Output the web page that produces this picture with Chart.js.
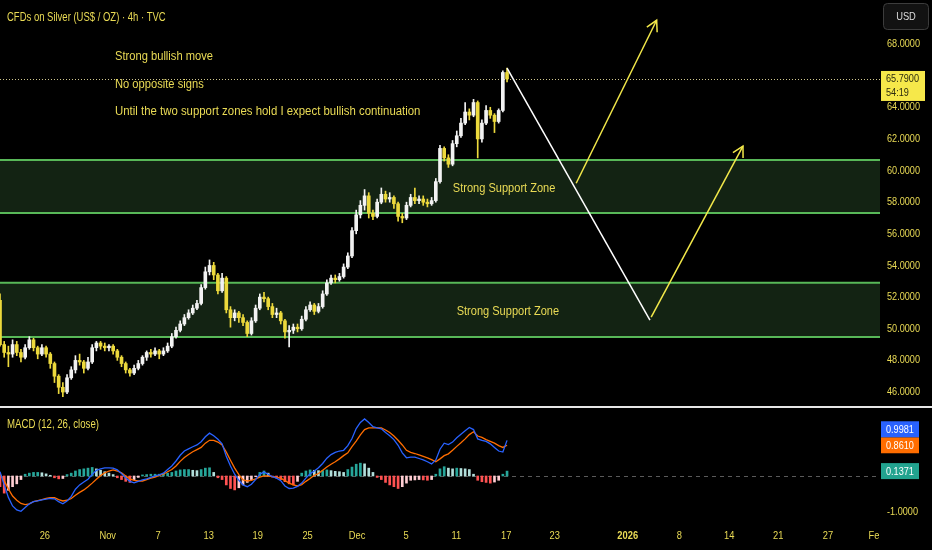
<!DOCTYPE html>
<html lang="en">
<head>
  <meta charset="UTF-8">
  <title>CFDs on Silver 4h</title>
  <style>
    html, body { margin: 0; padding: 0; background: #000; }
    body { width: 932px; height: 550px; position: relative; overflow: hidden; }
    #price { position: absolute; left: 0; top: 0; }
    #sep { position: absolute; left: 0; top: 406px; width: 932px; height: 2px; background: #e6e6e6; }
    #macd { position: absolute; left: 0; top: 408px; }
  </style>
</head>
<body>
  <canvas id="price" width="932" height="406"></canvas>
  <div id="sep"></div>
  <canvas id="macd" width="932" height="142"></canvas>
  <script src="https://cdn.jsdelivr.net/npm/chart.js"></script>
  <script>
    // x axis: one unit = one candle slot, tick labels placed at slot positions
    const tickPos = [10.7, 25.7, 37.7, 49.8, 61.5, 73.4, 85.2, 96.9, 108.9, 120.8, 132.4, 149.8, 162.1, 174.0, 185.7, 197.6, 209.2];
    const tickLabels = ['26', 'Nov', '7', '13', '19', '25', 'Dec', '5', '11', '17', '23', '2026', '8', '14', '21', '27', 'Feb'];
    const priceTicks = [46, 48, 50, 52, 54, 56, 58, 60, 62, 64, 66, 68];
    const macdTicks = [-1];

    const opens = [51.8, 49.0, 48.5, 48.4, 49.0, 48.5, 48.2, 48.8, 49.3, 48.8, 48.4, 48.8, 48.4, 47.8, 47.0, 46.3, 46.0, 46.9, 47.4, 48.0,
      47.9, 47.5, 47.9, 48.8, 49.1, 48.9, 48.8, 48.9, 48.6, 48.2, 47.8, 47.4, 47.2, 47.5, 47.8, 48.2, 48.5, 48.4, 48.6, 48.4,
      48.6, 48.9, 49.5, 49.9, 50.3, 50.7, 51.0, 51.3, 51.6, 52.6, 53.6, 54.0, 53.4, 52.4, 53.2, 51.2, 50.7, 51.0, 50.7, 50.4,
      49.7, 50.5, 51.3, 52.0, 51.9, 51.4, 50.9, 51.0, 50.5, 49.8, 49.9, 50.1, 50.0, 50.6, 51.2, 51.5, 51.1, 51.4, 52.2, 52.9,
      53.2, 53.1, 53.3, 53.9, 54.6, 56.2, 57.2, 57.8, 58.4, 57.3, 57.1, 58.0, 58.5, 58.2, 58.3, 57.9, 57.1, 57.0, 57.8, 58.3,
      58.1, 58.2, 58.0, 57.9, 58.1, 59.3, 61.4, 60.8, 60.4, 61.7, 62.2, 63.0, 63.7, 63.5, 64.3, 62.0, 63.0, 63.8, 63.5, 63.1,
      63.8, 66.2];
    const highs = [52.2, 49.2, 48.9, 49.3, 49.2, 48.7, 49.0, 49.5, 49.4, 48.9, 49.0, 48.9, 48.5, 47.9, 47.1, 46.6, 47.1, 47.6, 48.3, 48.4,
      48.0, 48.2, 49.0, 49.2, 49.2, 49.1, 49.0, 49.0, 48.7, 48.3, 47.9, 47.5, 47.7, 48.0, 48.3, 48.6, 48.7, 48.8, 48.7, 48.8,
      49.1, 49.7, 50.1, 50.5, 50.9, 51.2, 51.5, 51.8, 52.8, 53.9, 54.35, 54.2, 53.5, 53.5, 53.3, 51.4, 51.2, 51.1, 50.9, 50.5,
      50.7, 51.5, 52.2, 52.3, 52.0, 51.6, 51.3, 51.1, 50.6, 50.2, 50.3, 50.3, 50.8, 51.4, 51.7, 51.6, 51.6, 52.4, 53.1, 53.4,
      53.4, 53.5, 54.1, 54.8, 56.4, 57.5, 58.1, 58.8, 58.6, 57.5, 58.2, 58.9, 58.7, 58.6, 58.4, 58.0, 57.3, 58.0, 58.5, 58.9,
      58.4, 58.4, 58.2, 58.3, 59.5, 61.6, 61.5, 61.0, 61.9, 62.5, 63.3, 64.3, 63.9, 64.5, 64.4, 63.2, 64.1, 64.0, 63.6, 63.9,
      66.3, 66.48];
    const lows = [48.9, 48.2, 47.6, 48.2, 48.3, 47.9, 48.1, 48.7, 48.6, 48.1, 48.3, 48.2, 47.5, 46.6, 45.9, 45.7, 45.9, 46.8, 47.2, 47.7,
      47.2, 47.4, 47.8, 48.6, 48.7, 48.6, 48.6, 48.4, 48.0, 47.6, 47.2, 47.0, 47.1, 47.4, 47.7, 48.0, 48.2, 48.3, 48.1, 48.3,
      48.5, 48.8, 49.4, 49.8, 50.2, 50.6, 50.9, 51.2, 51.5, 52.5, 53.4, 53.1, 52.2, 52.3, 51.0, 50.1, 50.5, 50.4, 50.2, 49.5,
      49.6, 50.4, 51.2, 51.7, 51.2, 50.7, 50.7, 50.3, 49.4, 48.85, 49.7, 49.8, 49.9, 50.5, 51.1, 50.9, 51.0, 51.3, 52.1, 52.8,
      52.9, 53.0, 53.2, 53.8, 54.5, 56.0, 57.0, 57.5, 57.0, 56.9, 57.0, 57.9, 58.0, 58.0, 57.6, 56.8, 56.7, 56.9, 57.7, 57.9,
      57.9, 57.8, 57.7, 57.8, 58.0, 59.2, 60.6, 60.2, 60.3, 61.5, 62.1, 62.9, 63.2, 63.4, 60.8, 61.8, 62.9, 63.3, 62.4, 63.0,
      63.7, 65.6];
    const closes = [49.0, 48.5, 48.4, 49.0, 48.5, 48.2, 48.8, 49.3, 48.8, 48.4, 48.8, 48.4, 47.8, 47.0, 46.3, 46.0, 46.9, 47.4, 48.0, 47.9,
      47.5, 47.9, 48.8, 49.1, 48.9, 48.8, 48.9, 48.6, 48.2, 47.8, 47.4, 47.2, 47.5, 47.8, 48.2, 48.5, 48.4, 48.6, 48.4, 48.6,
      48.9, 49.5, 49.9, 50.3, 50.7, 51.0, 51.3, 51.6, 52.6, 53.6, 54.0, 53.4, 52.4, 53.2, 51.2, 50.7, 51.0, 50.7, 50.4, 49.7,
      50.5, 51.3, 52.0, 51.9, 51.4, 50.9, 51.0, 50.5, 49.8, 49.9, 50.1, 50.0, 50.6, 51.2, 51.5, 51.1, 51.4, 52.2, 52.9, 53.2,
      53.1, 53.3, 53.9, 54.6, 56.2, 57.2, 57.8, 58.4, 57.3, 57.1, 58.0, 58.5, 58.2, 58.3, 57.9, 57.1, 57.0, 57.8, 58.3, 58.1,
      58.2, 58.0, 57.9, 58.1, 59.3, 61.4, 60.8, 60.4, 61.7, 62.2, 63.0, 63.7, 63.5, 64.3, 62.0, 63.0, 63.8, 63.5, 63.1, 63.8,
      66.2, 65.79];

    const macdLine = [0.12, -0.25, -0.60, -0.84, -0.95, -0.99, -0.88, -0.78, -0.72, -0.70, -0.67, -0.65, -0.63, -0.64, -0.72, -0.78, -0.70, -0.57, -0.37, -0.25,
      -0.17, -0.09, 0.04, 0.16, 0.20, 0.23, 0.23, 0.22, 0.17, 0.07, -0.05, -0.15, -0.19, -0.15, -0.11, -0.08, -0.04, 0.00, 0.03, 0.08,
      0.18, 0.28, 0.42, 0.58, 0.70, 0.76, 0.82, 0.87, 0.96, 1.10, 1.20, 1.13, 1.03, 0.90, 0.55, 0.28, 0.05, -0.12, -0.25, -0.30,
      -0.23, -0.10, 0.05, 0.11, 0.05, -0.02, -0.06, -0.13, -0.28, -0.35, -0.34, -0.29, -0.20, -0.06, 0.06, 0.14, 0.23, 0.35, 0.50, 0.60,
      0.66, 0.70, 0.72, 0.85, 1.05, 1.33, 1.50, 1.60, 1.50, 1.38, 1.35, 1.32, 1.22, 1.13, 1.02, 0.86, 0.65, 0.51, 0.53, 0.53,
      0.49, 0.45, 0.40, 0.34, 0.45, 0.75, 0.92, 0.88, 0.95, 1.07, 1.17, 1.27, 1.36, 1.30, 1.04, 1.00, 0.97, 0.90, 0.80, 0.70,
      0.67, 0.9981];
    const signalLine = [0.05, -0.13, -0.36, -0.56, -0.68, -0.77, -0.80, -0.78, -0.72, -0.69, -0.66, -0.63, -0.61, -0.61, -0.66, -0.70, -0.68, -0.63, -0.54, -0.46,
      -0.39, -0.30, -0.20, -0.09, 0.01, 0.09, 0.14, 0.17, 0.14, 0.09, 0.00, -0.08, -0.12, -0.14, -0.14, -0.10, -0.06, -0.03, 0.02, 0.05,
      0.12, 0.18, 0.28, 0.41, 0.52, 0.60, 0.68, 0.74, 0.80, 0.92, 1.00, 1.00, 0.95, 0.87, 0.67, 0.44, 0.22, 0.04, -0.11, -0.14,
      -0.12, -0.08, -0.03, 0.00, 0.00, -0.02, -0.04, -0.06, -0.13, -0.20, -0.25, -0.28, -0.24, -0.15, -0.07, 0.02, 0.07, 0.16, 0.25, 0.33,
      0.40, 0.48, 0.57, 0.65, 0.82, 0.98, 1.15, 1.30, 1.35, 1.35, 1.35, 1.35, 1.29, 1.22, 1.12, 1.00, 0.87, 0.72, 0.66, 0.63,
      0.59, 0.55, 0.51, 0.46, 0.40, 0.48, 0.57, 0.62, 0.72, 0.83, 0.93, 1.04, 1.16, 1.24, 1.12, 1.08, 1.02, 0.97, 0.92, 0.85,
      0.80, 0.8610];
    const histValues = [-0.30, -0.48, -0.40, -0.30, -0.22, -0.10, 0.05, 0.08, 0.10, 0.10, 0.09, 0.06, 0.02, -0.05, -0.08, -0.07, 0.04, 0.08, 0.14, 0.18,
      0.20, 0.22, 0.24, 0.20, 0.16, 0.12, 0.08, 0.04, -0.05, -0.10, -0.15, -0.18, -0.10, -0.04, 0.03, 0.04, 0.05, 0.05, 0.05, 0.06,
      0.08, 0.10, 0.14, 0.17, 0.18, 0.18, 0.16, 0.15, 0.18, 0.22, 0.23, 0.10, -0.05, -0.10, -0.25, -0.35, -0.39, -0.33, -0.25, -0.18,
      -0.10, -0.02, 0.10, 0.14, 0.08, -0.03, -0.06, -0.10, -0.16, -0.22, -0.25, -0.15, 0.08, 0.14, 0.17, 0.16, 0.15, 0.15, 0.17, 0.15,
      0.13, 0.12, 0.10, 0.18, 0.25, 0.33, 0.36, 0.34, 0.22, 0.10, -0.04, -0.10, -0.18, -0.25, -0.30, -0.35, -0.30, -0.20, -0.12, -0.11,
      -0.10, -0.11, -0.12, -0.10, 0.05, 0.20, 0.26, 0.22, 0.20, 0.22, 0.21, 0.20, 0.18, 0.05, -0.12, -0.16, -0.18, -0.20, -0.17, -0.12,
      0.05, 0.1371];

    // analysis drawings (candle slot, price)
    const zoneTops = [60.67, 52.9];
    const zoneBottoms = [57.32, 49.48];
    const dropX = [121.0, 155.1], dropY = [66.48, 50.55];
    const arrowAX = [137.5, 156.7], arrowAY = [59.2, 69.5];
    const arrowBX = [155.4, 177.3], arrowBY = [50.74, 61.55];

    const FONT = "'Liberation Sans', Arial, sans-serif";
    const YELLOW = '#eadb55';
    const UP = '#f2f2f2';
    const DOWN = '#ecd93c';
    const slots = closes.map((_, i) => i);
    const pts = (xs, ys) => xs.map((x, i) => ({ x: x, y: ys[i] }));
    const candleColor = c => closes[c.dataIndex] >= opens[c.dataIndex] ? UP : DOWN;

    // narrow text like the TradingView UI font
    function squeeze(ctx, text, x, y, sx, align) {
      ctx.save();
      ctx.translate(x, y);
      ctx.scale(sx, 1);
      ctx.textAlign = align || 'left';
      ctx.fillText(text, 0, 0);
      ctx.restore();
    }

    const priceDecor = {
      id: 'priceDecor',
      beforeDatasetsDraw(chart) {
        const { ctx, chartArea: a, scales: { y } } = chart;
        ctx.save();
        zoneTops.forEach((top, i) => {
          const y1 = y.getPixelForValue(top), y2 = y.getPixelForValue(zoneBottoms[i]);
          ctx.fillStyle = '#132313';
          ctx.fillRect(a.left, y1, a.right - a.left, y2 - y1);
          ctx.strokeStyle = '#58b858';
          ctx.lineWidth = 2;
          ctx.beginPath();
          ctx.moveTo(a.left, y1); ctx.lineTo(a.right, y1);
          ctx.moveTo(a.left, y2); ctx.lineTo(a.right, y2);
          ctx.stroke();
        });
        const py = Math.round(y.getPixelForValue(closes[closes.length - 1])) + 0.5;
        ctx.strokeStyle = '#cfc78e';
        ctx.lineWidth = 1;
        ctx.setLineDash([1, 2]);
        ctx.beginPath(); ctx.moveTo(a.left, py); ctx.lineTo(a.right, py); ctx.stroke();
        ctx.restore();
      },
      afterDatasetsDraw(chart) {
        const { ctx, scales: { x, y } } = chart;
        ctx.save();
        // arrow heads on the yellow projections
        chart.data.datasets.forEach((ds, i) => {
          if (!ds.arrow) return;
          const d = chart.getDatasetMeta(i).data;
          const p0 = d[d.length - 2], p1 = d[d.length - 1];
          const ang = Math.atan2(p1.y - p0.y, p1.x - p0.x);
          ctx.strokeStyle = ds.borderColor;
          ctx.lineWidth = 1.5;
          ctx.beginPath();
          ctx.moveTo(p1.x - 12 * Math.cos(ang - 0.5), p1.y - 12 * Math.sin(ang - 0.5));
          ctx.lineTo(p1.x, p1.y);
          ctx.lineTo(p1.x - 12 * Math.cos(ang + 0.5), p1.y - 12 * Math.sin(ang + 0.5));
          ctx.stroke();
        });
        ctx.fillStyle = YELLOW;
        ctx.textBaseline = 'middle';
        ctx.font = '12px ' + FONT;
        [120.3, 121.2].forEach((sx, i) => {
          const my = (y.getPixelForValue(zoneTops[i]) + y.getPixelForValue(zoneBottoms[i])) / 2;
          squeeze(ctx, 'Strong Support Zone', x.getPixelForValue(sx), my + 2, 0.92, 'center');
        });
        squeeze(ctx, 'Strong bullish move', 115, 57, 0.93);
        squeeze(ctx, 'No opposite signs', 115, 85, 0.93);
        squeeze(ctx, 'Until the two support zones hold I expect bullish continuation', 115, 112, 0.95);
        ctx.font = '13px ' + FONT;
        squeeze(ctx, 'CFDs on Silver (US$ / OZ) · 4h · TVC', 7, 17, 0.73);
        ctx.restore();
      },
      afterDraw(chart) {
        const { ctx, chartArea: a, scales: { y } } = chart;
        ctx.save();
        ctx.font = '11px ' + FONT;
        ctx.textBaseline = 'middle';
        ctx.fillStyle = YELLOW;
        y.ticks.forEach(t => squeeze(ctx, t.value.toFixed(4), a.right + 7, y.getPixelForValue(t.value), 0.83));
        const last = closes[closes.length - 1];
        const py = y.getPixelForValue(last);
        ctx.fillStyle = '#f6e84a';
        ctx.fillRect(a.right + 1, py - 8, 44, 30);
        ctx.fillStyle = '#2a2a10';
        squeeze(ctx, last.toFixed(4), a.right + 6, py, 0.83);
        squeeze(ctx, '54:19', a.right + 6, py + 14, 0.83);
        // currency button
        ctx.fillStyle = '#121212';
        ctx.strokeStyle = '#3c3c3c';
        ctx.lineWidth = 1;
        ctx.beginPath();
        ctx.roundRect(883.5, 3.5, 45, 26, 4);
        ctx.fill(); ctx.stroke();
        ctx.fillStyle = '#dedede';
        squeeze(ctx, 'USD', 906, 17, 0.85, 'center');
        ctx.restore();
      }
    };

    new Chart(document.getElementById('price'), {
      type: 'bar',
      data: {
        datasets: [
          { data: pts(slots, slots.map(i => [lows[i], highs[i]])), backgroundColor: candleColor, barThickness: 1, grouped: false, order: 3 },
          { data: pts(slots, slots.map(i => [opens[i], closes[i]])), backgroundColor: candleColor, barThickness: 3, minBarLength: 1, grouped: false, order: 2 },
          { type: 'line', data: pts(dropX, dropY), borderColor: '#ffffff', borderWidth: 1.5, pointRadius: 0, order: 1 },
          { type: 'line', data: pts(arrowAX, arrowAY), borderColor: '#f2e84a', borderWidth: 1.5, pointRadius: 0, order: 1, arrow: true },
          { type: 'line', data: pts(arrowBX, arrowBY), borderColor: '#f2e84a', borderWidth: 1.5, pointRadius: 0, order: 1, arrow: true }
        ]
      },
      options: {
        responsive: false,
        animation: false,
        layout: { padding: 0 },
        plugins: { legend: { display: false }, tooltip: { enabled: false } },
        scales: {
          x: { type: 'linear', min: 0, max: 210, offset: false, display: false },
          y: {
            position: 'right', min: 45.117, max: 70.781,
            grid: { display: false, drawTicks: false }, border: { display: false },
            afterBuildTicks: s => { s.ticks = priceTicks.map(v => ({ value: v })); },
            afterFit: s => { s.width = 52; s.paddingTop = 0; s.paddingBottom = 0; },
            ticks: { display: false }
          }
        }
      },
      plugins: [priceDecor]
    });

    const histColor = c => {
      const i = c.dataIndex, v = histValues[i], prev = i > 0 ? histValues[i - 1] : v;
      if (v >= 0) return v >= prev ? '#26a69a' : '#b2dfdb';
      return v > prev ? '#ffcdd2' : '#ff5252';
    };

    const macdDecor = {
      id: 'macdDecor',
      beforeDatasetsDraw(chart) {
        const { ctx, chartArea: a, scales: { y } } = chart;
        const zy = Math.round(y.getPixelForValue(0)) + 0.5;
        ctx.save();
        ctx.strokeStyle = '#5a5a5a';
        ctx.lineWidth = 1;
        ctx.setLineDash([4, 4]);
        ctx.beginPath(); ctx.moveTo(a.left, zy); ctx.lineTo(a.right, zy); ctx.stroke();
        ctx.restore();
      },
      afterDraw(chart) {
        const { ctx, chartArea: a, scales: { x, y } } = chart;
        ctx.save();
        ctx.textBaseline = 'middle';
        ctx.fillStyle = YELLOW;
        ctx.font = '13px ' + FONT;
        squeeze(ctx, 'MACD (12, 26, close)', 7, 16, 0.74);
        ctx.font = '11px ' + FONT;
        y.ticks.forEach(t => squeeze(ctx, t.value.toFixed(4), a.right + 7, y.getPixelForValue(t.value), 0.83));
        // date labels, clipped at the price scale like the original
        ctx.save();
        ctx.beginPath();
        ctx.rect(0, a.bottom, a.right, chart.height - a.bottom);
        ctx.clip();
        x.ticks.forEach((t, i) => {
          ctx.font = (tickLabels[i] === '2026' ? 'bold ' : '') + '11px ' + FONT;
          squeeze(ctx, tickLabels[i], x.getPixelForValue(t.value), a.bottom + 14, 0.85, 'center');
        });
        ctx.restore();
        const last = macdLine.length - 1;
        const boxes = [
          { v: histValues[last], c: '#22a38f' },
          { v: signalLine[last], c: '#ff6d00' },
          { v: macdLine[last], c: '#2962ff' }
        ];
        let floor = Infinity;
        boxes.forEach(b => {
          let cy = y.getPixelForValue(b.v);
          if (cy + 8 > floor) cy = floor - 8;
          floor = cy - 8;
          ctx.fillStyle = b.c;
          ctx.fillRect(a.right + 1, cy - 8, 38, 16);
          ctx.fillStyle = '#ffffff';
          squeeze(ctx, b.v.toFixed(4), a.right + 6, cy + 0.5, 0.83);
        });
        ctx.restore();
      }
    };

    new Chart(document.getElementById('macd'), {
      type: 'bar',
      data: {
        datasets: [
          { data: pts(slots, histValues), backgroundColor: histColor, barThickness: 2, grouped: false, order: 3 },
          { type: 'line', data: pts(slots, macdLine), borderColor: '#2962ff', borderWidth: 1.3, pointRadius: 0, order: 1 },
          { type: 'line', data: pts(slots, signalLine), borderColor: '#ff6d00', borderWidth: 1.3, pointRadius: 0, order: 2 }
        ]
      },
      options: {
        responsive: false,
        animation: false,
        layout: { padding: 0 },
        plugins: { legend: { display: false }, tooltip: { enabled: false } },
        scales: {
          x: {
            type: 'linear', min: 0, max: 210, offset: false,
            grid: { display: false, drawTicks: false }, border: { display: false },
            afterBuildTicks: s => { s.ticks = tickPos.map(v => ({ value: v })); },
            afterFit: s => { s.height = 28; s.paddingLeft = 0; s.paddingRight = 0; },
            ticks: { display: false }
          },
          y: {
            position: 'right', min: -1.289, max: 1.905,
            grid: { display: false, drawTicks: false }, border: { display: false },
            afterBuildTicks: s => { s.ticks = macdTicks.map(v => ({ value: v })); },
            afterFit: s => { s.width = 52; s.paddingTop = 0; s.paddingBottom = 0; },
            ticks: { display: false }
          }
        }
      },
      plugins: [macdDecor]
    });
  </script>
</body>
</html>
